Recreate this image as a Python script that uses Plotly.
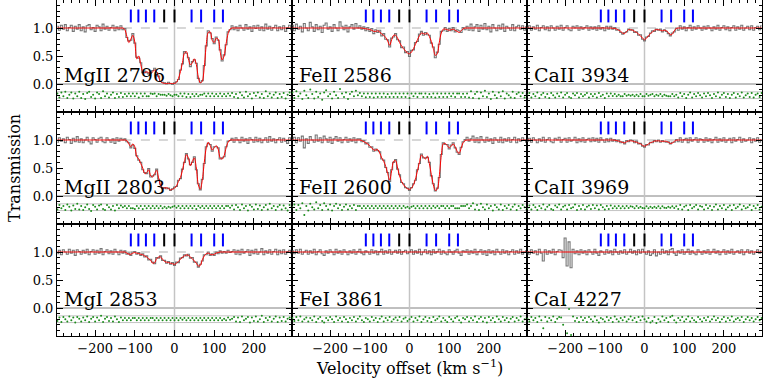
"""Velocity-space absorption profiles: data, model fit and residuals per transition."""
from __future__ import annotations

import plotly.graph_objects as go
from plotly.subplots import make_subplots

VELOCITY = list(range(-295, 300, 5))  # km/s, 119 pixels

LINE_LABELS = [
    ["MgII 2796", "FeII 2586", "CaII 3934"],
    ["MgII 2803", "FeII 2600", "CaII 3969"],
    ["MgI 2853", "FeI 3861", "CaI 4227"],
]

BLUE_COMPONENTS = [-110, -91, -72, -51, 43, 67, 100, 122]
BLACK_COMPONENTS = [-26, 0]

RESIDUAL_ZERO = -0.2

# ---- model profiles (red) ------------------------------------------------
MODEL_MGII_2796 = [1.0] * 34 + [
    0.97, 0.85, 0.74, 0.80, 0.87, 0.75, 0.45, 0.50, 0.35, 0.22,
    0.20, 0.22, 0.20, 0.18, 0.22, 0.25, 0.22, 0.12, 0.04, 0.02,
    0.01, 0.01, 0.01, 0.01, 0.01, 0.01, 0.03, 0.10, 0.22, 0.38,
    0.55, 0.58, 0.45, 0.34, 0.38, 0.45, 0.35, 0.12, 0.02, 0.05,
    0.30, 0.70, 0.92, 0.93, 0.78, 0.74, 0.82, 0.80, 0.58, 0.43,
    0.50, 0.72, 0.90, 0.98,
] + [1.0] * 31

MODEL_MGII_2803 = [1.0] * 34 + [
    1.00, 0.99, 0.93, 0.88, 0.93, 0.88, 0.70, 0.66, 0.58, 0.50,
    0.40, 0.42, 0.47, 0.36, 0.34, 0.40, 0.46, 0.32, 0.19, 0.15,
    0.14, 0.15, 0.13, 0.11, 0.12, 0.14, 0.18, 0.26, 0.33, 0.46,
    0.62, 0.74, 0.68, 0.54, 0.62, 0.68, 0.50, 0.20, 0.12, 0.28,
    0.60, 0.86, 0.96, 0.90, 0.82, 0.86, 0.90, 0.84, 0.68, 0.66,
    0.72, 0.86, 0.96, 1.00,
] + [1.0] * 31

MODEL_MGI_2853 = [1.0] * 34 + [
    1.00, 0.98, 0.96, 0.96, 0.98, 0.99, 0.98, 0.97, 0.96, 0.95,
    0.93, 0.91, 0.88, 0.85, 0.80, 0.81, 0.88, 0.91, 0.91, 0.87,
    0.83, 0.82, 0.81, 0.80, 0.79, 0.78, 0.80, 0.83, 0.87, 0.91,
    0.93, 0.95, 0.94, 0.91, 0.88, 0.84, 0.80, 0.75, 0.76, 0.86,
    0.93, 0.97, 0.98, 0.96, 0.95, 0.96, 0.98, 0.99, 1.00, 1.00,
    1.00, 1.00, 1.00, 1.00,
] + [1.0] * 31

MODEL_FEII_2586 = [1.0] * 34 + [
    1.00, 1.00, 0.99, 0.985, 0.98, 0.97, 0.96, 0.94, 0.94, 0.95,
    0.93, 0.89, 0.87, 0.83, 0.77, 0.69, 0.79, 0.87, 0.87, 0.82,
    0.74, 0.68, 0.63, 0.59, 0.55, 0.54, 0.57, 0.63, 0.71, 0.79,
    0.86, 0.91, 0.90, 0.89, 0.91, 0.85, 0.76, 0.63, 0.51, 0.54,
    0.74, 0.91, 0.98, 0.98, 0.97, 0.96, 0.97, 0.98, 0.96, 0.94,
    0.92, 0.95, 0.985, 1.00,
] + [1.0] * 31

MODEL_FEII_2600 = [1.0] * 34 + [
    1.00, 0.99, 0.97, 0.95, 0.93, 0.89, 0.86, 0.82, 0.82, 0.83,
    0.77, 0.68, 0.62, 0.53, 0.40, 0.28, 0.45, 0.62, 0.63, 0.50,
    0.36, 0.26, 0.20, 0.16, 0.13, 0.12, 0.14, 0.20, 0.30, 0.45,
    0.60, 0.73, 0.70, 0.66, 0.71, 0.58, 0.38, 0.20, 0.10, 0.12,
    0.35, 0.72, 0.93, 0.94, 0.90, 0.86, 0.89, 0.93, 0.88, 0.80,
    0.76, 0.85, 0.95, 0.99,
] + [1.0] * 31

MODEL_FEI_3861 = [1.0] * 119

MODEL_CAII_3934 = [1.0] * 43 + [
    0.995, 0.99, 0.98, 0.96, 0.94, 0.91, 0.90, 0.94, 0.97, 0.97,
    0.96, 0.94, 0.92, 0.89, 0.86, 0.82, 0.79, 0.82, 0.86, 0.90,
    0.93, 0.96, 0.97, 0.97, 0.96, 0.95, 0.96, 0.95, 0.92, 0.88,
    0.89, 0.95, 0.99,
] + [1.0] * 43

MODEL_CAII_3969 = [1.0] * 43 + [
    1.00, 0.995, 0.99, 0.98, 0.97, 0.955, 0.95, 0.97, 0.985, 0.985,
    0.98, 0.97, 0.96, 0.945, 0.93, 0.905, 0.89, 0.905, 0.93, 0.95,
    0.965, 0.98, 0.985, 0.985, 0.98, 0.975, 0.98, 0.975, 0.96, 0.94,
    0.945, 0.975, 0.995,
] + [1.0] * 43

MODEL_CAI_4227 = [1.0] * 119

# ---- observed normalised flux (grey) -------------------------------------
FLUX_MGII_2796 = [
    1.03, 0.96, 1.05, 0.98, 1.06, 0.95, 1.01, 1.05, 0.94, 1.03,
    0.98, 1.06, 0.95, 1.02, 0.93, 1.04, 1.06, 0.97, 1.01, 0.94,
    1.05, 1.02, 0.95, 1.07, 0.98, 1.03, 0.96, 1.01, 1.05, 0.95,
    1.02, 0.97, 1.04, 0.97,
    0.99, 0.83, 0.77, 0.78, 0.90, 0.73, 0.48, 0.46, 0.38, 0.20,
    0.23, 0.20, 0.18, 0.21, 0.24, 0.28, 0.20, 0.14, 0.05, 0.03,
    0.02, 0.00, 0.03, 0.01, -0.01, 0.02, 0.04, 0.08, 0.25, 0.36,
    0.58, 0.55, 0.47, 0.31, 0.40, 0.43, 0.37, 0.10, 0.03, 0.06,
    0.33, 0.68, 0.95, 0.91, 0.81, 0.72, 0.84, 0.78, 0.61, 0.41,
    0.52, 0.70, 0.93, 0.97,
    1.04, 0.97, 1.02, 0.95, 1.05, 1.00, 0.96, 1.06, 0.98, 1.02,
    0.94, 1.04, 0.99, 1.05, 0.96, 1.02, 0.95, 1.07, 0.98, 1.03,
    0.96, 1.01, 1.05, 0.95, 1.02, 0.97, 1.04, 0.94, 1.01, 1.05,
    0.97,
]

FLUX_MGII_2803 = [
    0.96, 1.04, 0.98, 1.02, 0.95, 1.05, 1.01, 0.94, 1.03, 0.97,
    1.06, 0.96, 1.02, 0.95, 1.00, 1.05, 0.97, 0.93, 1.04, 1.01,
    0.96, 1.03, 1.05, 0.97, 0.95, 1.04, 1.00, 0.96, 1.02, 0.94,
    1.04, 0.98, 1.03, 1.00,
    1.02, 0.97, 0.95, 0.86, 0.91, 0.85, 0.72, 0.64, 0.60, 0.47,
    0.42, 0.40, 0.49, 0.34, 0.36, 0.38, 0.48, 0.30, 0.21, 0.13,
    0.15, 0.13, 0.14, 0.10, 0.13, 0.16, 0.17, 0.28, 0.31, 0.48,
    0.60, 0.76, 0.66, 0.56, 0.60, 0.70, 0.47, 0.22, 0.11, 0.30,
    0.58, 0.88, 0.94, 0.92, 0.80, 0.88, 0.88, 0.86, 0.66, 0.68,
    0.70, 0.88, 0.98, 0.99,
    1.03, 0.96, 1.04, 1.00, 0.95, 1.05, 0.98, 1.02, 0.94, 1.04,
    1.01, 0.96, 1.05, 0.97, 1.03, 0.95, 1.00, 1.04, 0.96, 1.06,
    0.98, 1.02, 0.95, 1.01, 1.04, 0.96, 1.03, 0.98, 0.94, 1.04,
    1.00,
]

FLUX_MGI_2853 = [
    0.97, 1.03, 0.95, 1.04, 1.00, 0.96, 1.05, 0.98, 1.03, 0.94,
    1.04, 1.01, 0.96, 1.03, 0.98, 1.05, 0.95, 1.01, 1.04, 0.96,
    1.03, 0.98, 1.06, 0.95, 1.01, 1.04, 0.97, 1.02, 0.96, 1.05,
    1.00, 0.95, 1.03, 0.98,
    1.02, 0.96, 0.98, 0.94, 1.00, 1.01, 0.96, 0.99, 0.94, 0.97,
    0.91, 0.93, 0.86, 0.87, 0.82, 0.79, 0.90, 0.89, 0.93, 0.85,
    0.85, 0.80, 0.83, 0.78, 0.81, 0.76, 0.82, 0.81, 0.89, 0.90,
    0.95, 0.93, 0.96, 0.89, 0.90, 0.82, 0.82, 0.73, 0.78, 0.84,
    0.95, 0.95, 1.00, 0.94, 0.97, 0.94, 1.00, 0.97, 1.02, 0.98,
    1.01, 0.98, 1.03, 0.99,
    1.01, 1.04, 0.96, 1.03, 0.95, 1.05, 0.98, 1.01, 1.04, 0.94,
    1.03, 0.97, 1.05, 0.96, 1.00, 1.06, 0.95, 1.02, 0.98, 1.04,
    0.96, 1.01, 1.05, 0.95, 1.03, 0.97, 1.04, 0.96, 1.01, 1.03,
    0.98,
]

FLUX_FEII_2586 = [
    1.05, 0.95, 1.07, 0.98, 1.03, 0.93, 1.08, 1.00, 0.95, 1.10,
    1.02, 0.94, 1.06, 0.97, 1.03, 0.92, 1.05, 1.09, 0.98, 1.02,
    0.94, 1.06, 1.00, 0.95, 1.11, 1.03, 0.97, 1.05, 0.93, 1.02,
    1.06, 0.98, 1.08, 1.00,
    1.04, 0.98, 1.02, 0.95, 1.01, 0.94, 0.99, 0.90, 0.97, 0.92,
    0.96, 0.86, 0.90, 0.80, 0.79, 0.66, 0.82, 0.84, 0.90, 0.79,
    0.77, 0.65, 0.66, 0.56, 0.58, 0.49, 0.60, 0.61, 0.74, 0.76,
    0.89, 0.94, 0.87, 0.92, 0.88, 0.87, 0.73, 0.66, 0.47, 0.57,
    0.71, 0.94, 0.95, 1.01, 0.94, 0.99, 0.95, 1.01, 0.93, 0.97,
    0.95, 0.92, 1.01, 0.97,
    1.03, 0.96, 1.07, 0.95, 1.02, 1.06, 0.94, 1.05, 0.98, 1.08,
    0.97, 1.03, 0.93, 1.06, 1.00, 0.95, 1.05, 0.98, 1.07, 0.94,
    1.03, 1.00, 0.96, 1.06, 0.95, 1.02, 1.05, 0.98, 1.04, 0.96,
    1.02,
]

FLUX_FEII_2600 = [
    1.00, 1.05, 0.95, 1.04, 0.98, 1.07, 0.86, 1.02, 0.94, 1.06,
    1.00, 0.96, 1.09, 0.98, 1.04, 0.95, 1.07, 1.02, 0.96, 1.05,
    0.94, 1.02, 1.06, 0.98, 1.04, 0.95, 1.01, 1.05, 0.96, 1.02,
    0.98, 1.04, 0.95, 1.02,
    1.02, 0.97, 0.99, 0.93, 0.95, 0.87, 0.88, 0.80, 0.84, 0.81,
    0.79, 0.66, 0.64, 0.51, 0.42, 0.26, 0.47, 0.60, 0.65, 0.48,
    0.38, 0.24, 0.22, 0.15, 0.14, 0.10, 0.15, 0.22, 0.28, 0.47,
    0.58, 0.75, 0.68, 0.68, 0.69, 0.60, 0.36, 0.22, 0.09, 0.14,
    0.33, 0.74, 0.95, 0.92, 0.92, 0.84, 0.91, 0.95, 0.86, 0.78,
    0.74, 0.87, 0.97, 1.01,
    1.05, 0.98, 1.02, 1.07, 0.96, 1.04, 0.95, 1.06, 1.00, 0.96,
    1.05, 0.98, 1.02, 0.94, 1.04, 1.00, 0.96, 1.05, 0.95, 1.02,
    0.98, 1.04, 0.96, 1.01, 1.05, 0.95, 1.02, 0.98, 1.04, 1.00,
    0.96,
]

FLUX_FEI_3861 = [
    1.02, 0.97, 1.04, 0.98, 1.05, 0.96, 1.00, 1.03, 0.96, 1.02,
    0.98, 1.05, 0.95, 1.01, 1.04, 0.97, 0.94, 1.02, 0.98, 1.04,
    1.00, 0.95, 1.05, 0.98, 1.02, 0.96, 1.04, 1.00, 0.95, 1.02,
    0.98, 1.04, 0.96, 1.01, 1.05, 0.98, 0.95, 1.02, 1.00, 0.96,
    1.04, 0.98, 1.02, 0.95, 1.01, 1.05, 0.96, 1.02, 0.98, 1.04,
    0.96, 1.00, 1.03, 0.98, 1.04, 0.96, 1.01, 1.03, 0.97, 1.00,
    1.04, 0.96, 1.02, 0.98, 1.05, 0.95, 1.00, 1.04, 0.97, 1.02,
    0.95, 1.04, 0.98, 1.01, 1.05, 0.96, 1.02, 0.98, 0.95, 1.04,
    1.00, 0.96, 1.02, 1.05, 0.98, 0.94, 1.02, 1.00, 1.04, 0.96,
    1.02, 0.98, 1.05, 0.95, 1.01, 1.04, 0.96, 1.02, 0.94, 1.04,
    0.98, 1.02, 0.95, 1.05, 1.00, 0.96, 1.04, 0.98, 1.02, 0.95,
    1.01, 1.04, 0.96, 1.02, 0.98, 1.05, 0.96, 1.00, 1.02,
]

FLUX_CAII_3934 = [
    1.00, 1.04, 0.96, 1.02, 0.98, 1.05, 0.95, 1.01, 1.04, 0.97,
    1.02, 0.95, 1.04, 1.00, 0.96, 1.03, 0.98, 1.05, 0.96, 1.01,
    1.04, 0.97, 0.95, 1.03, 1.00, 1.04, 0.96, 1.02, 0.98, 1.01,
    1.04, 0.96, 1.02, 0.98,
    1.02, 0.96, 1.04, 0.98, 1.01, 0.95, 1.03, 0.98, 1.03,
    0.98, 1.01, 0.96, 0.97, 0.92, 0.89, 0.92, 0.93, 0.98, 0.96,
    0.97, 0.92, 0.93, 0.87, 0.88, 0.80, 0.77, 0.84, 0.85, 0.91,
    0.95, 0.94, 0.98, 0.96, 0.98, 0.93, 0.97, 0.94, 0.90, 0.86,
    0.91, 0.93, 1.00,
    0.96, 1.04, 0.98, 1.02, 0.95, 1.01, 1.05, 0.96, 1.02, 0.98,
    1.04, 1.00,
    0.96, 1.03, 0.98, 1.04, 1.00, 0.95, 1.02, 0.98, 1.05, 0.96,
    1.01, 1.04, 0.97, 1.02, 0.95, 1.01, 1.04, 0.96, 1.02, 0.98,
    1.05, 0.96, 1.00, 1.03, 0.97, 1.04, 0.96, 1.01, 1.03, 0.97,
    1.04,
]

FLUX_CAII_3969 = [
    0.98, 1.03, 0.96, 1.04, 1.00, 0.95, 1.02, 0.98, 1.05, 0.96,
    1.01, 1.04, 0.97, 0.95, 1.03, 1.00, 1.05, 0.96, 1.01, 1.03,
    0.96, 1.04, 0.98, 1.00, 1.05, 0.95, 1.02, 0.97, 1.04, 0.96,
    1.01, 1.03, 0.97, 1.04,
    0.98, 1.03, 0.96, 1.04, 1.00, 0.96, 1.02, 0.97, 1.03,
    0.98, 1.01, 0.97, 1.00, 0.95, 0.97, 0.93, 0.99, 0.97, 1.00,
    0.99, 0.95, 0.98, 0.93, 0.94, 0.89, 0.87, 0.92, 0.91, 0.96,
    0.95, 0.99, 0.97, 1.00, 0.96, 0.99, 0.97, 0.96, 0.97, 0.93,
    0.96, 0.96, 1.01,
    0.97, 1.04, 0.96, 1.01, 1.03, 0.95, 1.04, 0.98, 1.01, 1.04,
    0.96, 1.02,
    1.01, 0.96, 1.04, 0.98, 1.02, 0.95, 1.01, 1.05, 0.96, 1.02,
    0.98, 1.04, 0.96, 1.00, 1.03, 0.95, 1.04, 0.98, 1.01, 1.05,
    0.96, 1.02, 0.98, 1.00, 1.04, 0.95, 1.02, 0.98, 1.04, 0.96,
    1.01,
]

FLUX_CAI_4227 = [
    1.01, 0.96, 1.04, 0.98, 1.02, 0.95, 1.05, 0.98, 0.84, 1.04,
    0.96, 1.02, 0.98, 1.05, 0.95, 1.01, 1.04, 1.03, 0.90, 1.25,
    0.75, 1.18, 0.72, 1.05, 0.97, 1.02, 0.95, 1.04, 0.98, 1.02,
    0.95, 1.04, 1.00, 0.96, 1.05, 0.98, 0.94, 1.02, 1.00, 0.96,
    1.04, 0.98, 1.02, 0.95, 1.05, 1.00, 0.96, 1.02, 0.98, 1.04,
    0.96, 1.00, 1.05, 0.98, 1.02, 0.95, 1.04, 0.98, 1.05, 1.00,
    0.96, 1.02, 0.94, 0.97, 1.04, 0.93, 1.00, 0.96, 1.05, 0.98,
    1.02, 0.95, 1.04, 1.06, 0.98, 0.94, 1.02, 0.98, 1.04, 0.96,
    1.00, 1.05, 0.96, 1.02, 0.98, 0.95, 1.04, 1.00, 0.96, 1.02,
    0.98, 1.04, 0.96, 1.00, 1.05, 0.98, 1.02, 0.95, 1.00, 1.04,
    0.96, 1.02, 0.98, 1.05, 0.96, 1.00, 1.02, 0.98, 1.04, 0.95,
    1.00, 1.04, 0.98, 1.02, 0.96, 1.00, 1.04, 0.98, 1.02,
]

FLUXES = [
    [FLUX_MGII_2796, FLUX_FEII_2586, FLUX_CAII_3934],
    [FLUX_MGII_2803, FLUX_FEII_2600, FLUX_CAII_3969],
    [FLUX_MGI_2853, FLUX_FEI_3861, FLUX_CAI_4227],
]
MODELS = [
    [MODEL_MGII_2796, MODEL_FEII_2586, MODEL_CAII_3934],
    [MODEL_MGII_2803, MODEL_FEII_2600, MODEL_CAII_3969],
    [MODEL_MGI_2853, MODEL_FEI_3861, MODEL_CAI_4227],
]

SERIF = "DejaVu Serif"
GREY = "#808080"
LIGHT_GREY = "#c4c4c4"


def _segments(positions: list[float], y0: float, y1: float) -> tuple[list, list]:
    """Vertical tick segments separated by None."""
    xs: list = []
    ys: list = []
    for v in positions:
        xs += [v, v, None]
        ys += [y0, y1, None]
    return xs, ys


def _add_panel(fig: go.Figure, row: int, col: int) -> None:
    flux = FLUXES[row - 1][col - 1]
    model = MODELS[row - 1][col - 1]
    label = LINE_LABELS[row - 1][col - 1]
    if len(flux) != len(VELOCITY) or len(model) != len(VELOCITY):
        raise ValueError(f"{label}: flux {len(flux)} model {len(model)}")

    residual = [RESIDUAL_ZERO + (f - m) for f, m in zip(flux, model)]

    # guide lines, kept under the data
    fig.add_shape(type="line", xref="x domain", x0=0, x1=1, y0=0, y1=0,
                  line=dict(color=GREY, width=1), layer="below", row=row, col=col)
    for level in (RESIDUAL_ZERO + 0.06, RESIDUAL_ZERO - 0.06):
        fig.add_shape(type="line", xref="x domain", x0=0, x1=1, y0=level, y1=level,
                      line=dict(color=LIGHT_GREY, width=1), layer="below", row=row, col=col)
    fig.add_shape(type="line", yref="y domain", x0=0, x1=0, y0=0, y1=1,
                  line=dict(color=LIGHT_GREY, width=1.5), layer="below", row=row, col=col)
    fig.add_shape(type="line", x0=-130, x1=145, y0=1.0, y1=1.0,
                  line=dict(color="#b0b0b0", width=1.2, dash="dash"), layer="below",
                  row=row, col=col)

    fig.add_trace(go.Scatter(x=VELOCITY, y=residual, mode="markers",
                             marker=dict(size=2, color="#1c8c1c"),
                             hoverinfo="skip"), row=row, col=col)
    fig.add_trace(go.Scatter(x=VELOCITY, y=flux, mode="lines",
                             line=dict(color="#767676", width=1.1, shape="hvh"),
                             hoverinfo="skip"), row=row, col=col)
    fig.add_trace(go.Scatter(x=VELOCITY, y=model, mode="lines",
                             line=dict(color="#ff0000", width=1, shape="spline", smoothing=0.8),
                             hoverinfo="skip"), row=row, col=col)

    for comps, color in ((BLUE_COMPONENTS, "#0000ff"), (BLACK_COMPONENTS, "#000000")):
        xs, ys = _segments(comps, 1.1, 1.33)
        fig.add_trace(go.Scatter(x=xs, y=ys, mode="lines",
                                 line=dict(color=color, width=2),
                                 hoverinfo="skip"), row=row, col=col)

    fig.add_annotation(x=-284, y=0.0, text=label, showarrow=False,
                       xanchor="left", yanchor="bottom", yshift=-4,
                       font=dict(family=SERIF, size=19, color="black"),
                       row=row, col=col)


fig = make_subplots(rows=3, cols=3, horizontal_spacing=0, vertical_spacing=0,
                    shared_xaxes=True, shared_yaxes=True)

for r in range(1, 4):
    for c in range(1, 4):
        _add_panel(fig, r, c)

tick_font = dict(family=SERIF, size=13, color="black")
fig.update_xaxes(
    range=[-296, 296],
    tickmode="array",
    tickvals=[-200, -100, 0, 100, 200],
    ticktext=["\u2212200", "\u2212100", "0", "100", "200"],
    ticks="inside", ticklen=6, tickwidth=1, tickcolor="black",
    minor=dict(ticks="inside", dtick=20, tick0=0, ticklen=3, tickcolor="black", showgrid=False),
    showline=True, linecolor="black", linewidth=1, mirror="allticks",
    showgrid=False, zeroline=False, tickfont=tick_font, automargin=False,
)
fig.update_yaxes(
    range=[-0.5, 1.5],
    tickmode="array",
    tickvals=[0.0, 0.5, 1.0],
    ticktext=["0.0", "0.5", "1.0"],
    ticks="inside", ticklen=6, tickwidth=1, tickcolor="black",
    minor=dict(ticks="inside", dtick=0.1, tick0=0, ticklen=3, tickcolor="black", showgrid=False),
    showline=True, linecolor="black", linewidth=1, mirror="allticks",
    showgrid=False, zeroline=False, tickfont=tick_font, automargin=False,
)

fig.add_annotation(xref="paper", yref="paper", x=0.5, y=-0.095,
                   text="Velocity offset (km s<sup>\u22121</sup>)", showarrow=False,
                   xanchor="center", yanchor="middle",
                   font=dict(family=SERIF, size=16, color="black"))
fig.add_annotation(xref="paper", yref="paper", x=-0.061, y=0.5,
                   text="Transmission", showarrow=False, textangle=-90,
                   xanchor="center", yanchor="middle",
                   font=dict(family=SERIF, size=16, color="black"))

fig.update_layout(
    width=764, height=382,
    margin=dict(l=57, r=2, t=0, b=46),
    showlegend=False,
    plot_bgcolor="white",
    paper_bgcolor="white",
)

fig.write_html(
    "out.html",
    config={"displayModeBar": False},
    post_script="document.body.style.margin='0';document.body.style.overflow='hidden';",
)
